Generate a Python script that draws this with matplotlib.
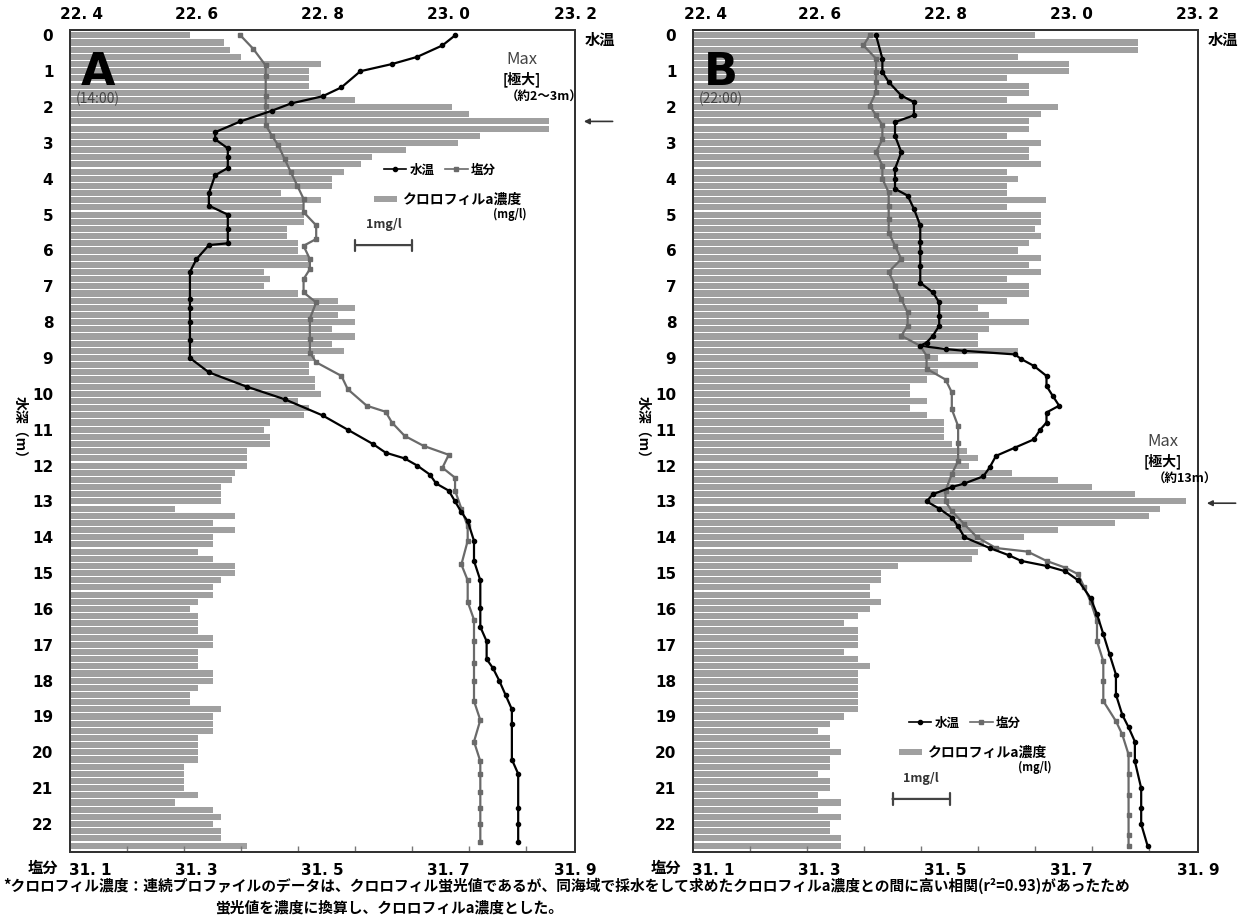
import numpy as np
import matplotlib
matplotlib.use('Agg')
import matplotlib.pyplot as plt
from matplotlib.lines import Line2D
from matplotlib.patches import Patch
from matplotlib.transforms import ScaledTranslation

plt.rcParams['font.family'] = ['Noto Sans CJK JP', 'DejaVu Sans']

W, H = 1251, 922

# 水深 (m) — chlorophyll samples every 0.2 m
depth = np.round(np.arange(0, 22.61, 0.2), 1)

# クロロフィルa濃度 (mg/l)
chl_a = [2.1, 2.7, 2.8, 3.0, 4.4, 4.2, 4.2, 4.2, 4.4, 5.0,
         6.7, 7.0, 8.4, 8.4, 7.2, 6.8, 5.9, 5.3, 5.1, 4.8,
         4.6, 4.6, 3.7, 4.4, 4.1, 4.1, 4.1, 3.8, 3.8, 4.0,
         4.0, 4.2, 4.2, 3.4, 3.5, 3.4, 4.0, 4.7, 5.0, 4.7,
         5.0, 4.6, 5.0, 4.6, 4.8, 4.3, 4.2, 4.2, 4.3, 4.3,
         4.4, 4.0, 4.2, 4.1, 3.5, 3.4, 3.5, 3.5, 3.1, 3.1,
         3.1, 2.9, 2.85, 2.65, 2.65, 2.65, 1.85, 2.9, 2.5, 2.9,
         2.5, 2.5, 2.25, 2.5, 2.9, 2.9, 2.65, 2.5, 2.5, 2.25,
         2.1, 2.25, 2.25, 2.25, 2.5, 2.5, 2.25, 2.25, 2.25, 2.5,
         2.5, 2.25, 2.1, 2.1, 2.65, 2.5, 2.5, 2.5, 2.25, 2.25,
         2.25, 2.25, 2.0, 2.0, 2.0, 2.0, 2.25, 1.85, 2.5, 2.65,
         2.5, 2.65, 2.65, 3.1]
chl_b = [6.0, 7.8, 7.8, 5.7, 6.6, 6.6, 5.5, 5.9, 5.9, 5.5,
         6.4, 6.1, 5.9, 5.9, 5.5, 6.1, 5.9, 5.9, 6.1, 5.5,
         5.7, 5.5, 5.5, 6.2, 5.5, 6.1, 6.1, 6.0, 6.1, 5.9,
         5.7, 6.1, 5.9, 6.1, 5.5, 5.9, 5.9, 5.5, 5.0, 5.2,
         5.9, 5.2, 5.0, 5.0, 5.7, 4.3, 5.0, 4.3, 4.1, 3.8,
         3.8, 4.1, 3.8, 4.1, 4.4, 4.4, 4.4, 4.55, 4.8, 5.0,
         4.85, 5.6, 6.4, 7.0, 7.75, 8.65, 8.2, 8.0, 7.4, 6.4,
         5.8, 5.1, 5.0, 4.9, 3.6, 3.3, 3.3, 3.1, 3.1, 3.3,
         3.1, 2.9, 2.65, 2.9, 2.9, 2.9, 2.65, 2.9, 3.1, 2.9,
         2.9, 2.9, 2.9, 2.9, 2.9, 2.65, 2.4, 2.2, 2.4, 2.4,
         2.6, 2.4, 2.4, 2.2, 2.4, 2.4, 2.2, 2.6, 2.2, 2.6,
         2.4, 2.4, 2.6, 2.6]

# 水温 (℃), A = 14:00
temp_a_depth = [0.0, 0.28, 0.6, 0.8, 1.0, 1.45, 1.7, 1.9, 2.1, 2.4,
                2.7, 2.9, 3.15, 3.4, 3.7, 3.9, 4.4, 4.75, 5.0, 5.4,
                5.8, 5.85, 6.25, 6.6, 7.35, 7.6, 8.0, 8.5, 9.0, 9.4,
                9.8, 10.15, 10.6, 11.0, 11.4, 11.64, 11.8, 12.0, 12.25, 12.5,
                12.7, 13.0, 13.3, 13.55, 14.1, 14.66, 15.2, 15.97, 16.5, 16.9,
                17.4, 17.65, 18.0, 18.4, 18.8, 19.2, 20.2, 20.6, 21.56, 22.0,
                22.5]
temp_a = [23.01, 22.99, 22.95, 22.91, 22.86, 22.83, 22.80, 22.75, 22.72, 22.67,
          22.63, 22.63, 22.65, 22.65, 22.65, 22.63, 22.62, 22.62, 22.65, 22.65,
          22.65, 22.62, 22.60, 22.59, 22.59, 22.59, 22.59, 22.59, 22.59, 22.62,
          22.68, 22.74, 22.80, 22.84, 22.88, 22.90, 22.93, 22.95, 22.97, 22.98,
          23.00, 23.01, 23.02, 23.03, 23.04, 23.04, 23.05, 23.05, 23.05, 23.06,
          23.06, 23.07, 23.08, 23.09, 23.10, 23.10, 23.10, 23.11, 23.11, 23.11,
          23.11]

# 塩分, A
sal_a_depth = [0.0, 0.37, 0.84, 1.12, 1.68, 1.96, 2.5, 2.8, 3.07, 3.45,
               3.82, 4.19, 4.56, 4.93, 5.3, 5.68, 5.87, 6.24, 6.52, 6.8,
               7.17, 7.45, 7.9, 8.47, 8.85, 9.12, 9.5, 9.87, 10.33, 10.5,
               10.8, 11.17, 11.45, 11.7, 12.06, 12.34, 12.7, 13.2, 13.7, 14.1,
               14.76, 15.2, 15.8, 16.3, 16.9, 17.5, 18.0, 18.57, 19.1, 19.7,
               20.25, 20.6, 21.1, 21.55, 22.0, 22.5]
sal_a = [31.37, 31.39, 31.41, 31.41, 31.41, 31.41, 31.41, 31.42, 31.43, 31.44,
         31.45, 31.46, 31.47, 31.47, 31.49, 31.49, 31.47, 31.48, 31.48, 31.47,
         31.47, 31.49, 31.48, 31.48, 31.48, 31.49, 31.53, 31.54, 31.57, 31.60,
         31.61, 31.63, 31.66, 31.70, 31.69, 31.71, 31.71, 31.72, 31.73, 31.73,
         31.72, 31.73, 31.73, 31.74, 31.74, 31.74, 31.74, 31.74, 31.75, 31.74,
         31.75, 31.75, 31.75, 31.75, 31.75, 31.75]

# 水温, B = 22:00
temp_b_depth = [0.0, 0.65, 1.02, 1.3, 1.68, 1.86, 2.23, 2.42, 2.8, 3.26,
                3.72, 4.0, 4.28, 4.47, 4.84, 5.3, 5.77, 6.05, 6.42, 6.9,
                7.17, 7.45, 7.82, 8.1, 8.38, 8.57, 8.66, 8.75, 8.8, 8.9,
                9.03, 9.22, 9.5, 9.78, 10.06, 10.33, 10.52, 10.8, 11.0, 11.27,
                11.5, 11.73, 12.05, 12.3, 12.5, 12.6, 12.8, 13.0, 13.2, 13.45,
                13.7, 14.0, 14.3, 14.5, 14.66, 14.8, 14.95, 15.2, 15.7, 16.15,
                16.7, 17.27, 17.83, 18.39, 18.95, 19.3, 19.7, 20.25, 21.0, 21.55,
                22.0, 22.6]
temp_b = [22.69, 22.70, 22.70, 22.71, 22.73, 22.75, 22.75, 22.72, 22.72, 22.73,
          22.72, 22.72, 22.72, 22.74, 22.75, 22.76, 22.76, 22.76, 22.76, 22.76,
          22.78, 22.79, 22.79, 22.79, 22.78, 22.77, 22.76, 22.80, 22.83, 22.91,
          22.92, 22.94, 22.96, 22.96, 22.97, 22.98, 22.96, 22.96, 22.95, 22.94,
          22.91, 22.88, 22.87, 22.86, 22.83, 22.81, 22.78, 22.77, 22.79, 22.81,
          22.82, 22.83, 22.87, 22.90, 22.92, 22.96, 22.99, 23.01, 23.03, 23.04,
          23.05, 23.06, 23.07, 23.07, 23.08, 23.09, 23.10, 23.10, 23.11, 23.11,
          23.11, 23.12]

# 塩分, B
sal_b_depth = [0.0, 0.28, 0.65, 1.02, 1.3, 1.58, 1.96, 2.23, 2.5, 2.9,
               3.26, 3.63, 4.0, 4.38, 4.75, 5.12, 5.5, 5.87, 6.24, 6.6,
               6.98, 7.36, 7.73, 8.1, 8.38, 8.66, 8.94, 9.3, 9.6, 9.96,
               10.43, 10.9, 11.36, 11.87, 12.24, 12.7, 13.0, 13.27, 13.64, 14.0,
               14.3, 14.4, 14.66, 14.85, 15.03, 15.4, 15.8, 16.34, 16.9, 17.46,
               18.0, 18.57, 19.13, 19.5, 20.06, 20.6, 21.2, 21.74, 22.3, 22.6]
sal_b = [31.38, 31.37, 31.39, 31.39, 31.39, 31.39, 31.38, 31.39, 31.40, 31.40,
         31.39, 31.40, 31.40, 31.41, 31.41, 31.41, 31.41, 31.42, 31.43, 31.41,
         31.42, 31.43, 31.44, 31.44, 31.43, 31.46, 31.47, 31.47, 31.50, 31.51,
         31.51, 31.52, 31.52, 31.52, 31.51, 31.50, 31.50, 31.51, 31.53, 31.55,
         31.58, 31.63, 31.66, 31.69, 31.71, 31.72, 31.73, 31.74, 31.74, 31.75,
         31.75, 31.75, 31.77, 31.78, 31.79, 31.79, 31.79, 31.79, 31.79, 31.79]

temp_ticks = [22.4, 22.6, 22.8, 23.0, 23.2]
temp_labels = ['22. 4', '22. 6', '22. 8', '23. 0', '23. 2']
sal_ticks = [31.1, 31.3, 31.5, 31.7, 31.9]
sal_labels = ['31. 1', '31. 3', '31. 5', '31. 7', '31. 9']

BAR = '#a0a0a0'
GRAY_LINE = '#6a6a6a'
CHL_MAX = 505 / 57.0   # 1 mg/l = 57 px on a 505 px wide panel

fig = plt.figure(figsize=(W / 100, H / 100), dpi=100)


def fx(px):
    return px / W


def fy(py):
    return 1 - py / H


def panel(left, chl, td, tv, sd, sv, letter, time_lbl, max_depth,
          max_txt, max_xy, leg_y, bar_pos):
    axc = fig.add_axes([fx(left), fy(852), fx(505), 822 / H])
    axc.barh(depth, chl, height=0.17, color=BAR, edgecolor='none')
    axc.set_xlim(0, CHL_MAX)
    axc.set_ylim(22.78, -0.15)
    axc.set_xticks(np.arange(1, 9))
    axc.tick_params(axis='x', direction='in', length=4, width=1,
                    labelbottom=False, colors='#777777')
    axc.set_yticks(range(23))
    axc.set_yticklabels([str(i) for i in range(23)], fontsize=11,
                        fontweight='bold', family='DejaVu Sans')
    axc.tick_params(axis='y', length=0, pad=12)

    axs = axc.twiny()
    axs.plot(sv, sd, color=GRAY_LINE, marker='s', ms=3, lw=1.6)
    axs.set_xlim(31.1, 31.9)
    axs.xaxis.tick_bottom()
    axs.set_xticks(sal_ticks)
    axs.set_xticklabels(sal_labels, fontsize=11, fontweight='bold',
                        family='DejaVu Sans')
    axs.tick_params(axis='x', length=0, pad=8)
    # first salinity label sits a little right of the frame edge
    lab0 = axs.get_xticklabels()[0]
    lab0.set_transform(lab0.get_transform() +
                       ScaledTranslation(20 / 100, 0, fig.dpi_scale_trans))

    axt = axc.twiny()
    axt.plot(tv, td, color='black', marker='o', ms=3, lw=1.6)
    axt.set_xlim(22.4, 23.2)
    axt.set_xticks(temp_ticks)
    axt.set_xticklabels(temp_labels, fontsize=11, fontweight='bold',
                        family='DejaVu Sans')
    axt.tick_params(axis='x', length=0, pad=6)
    lab0 = axt.get_xticklabels()[0]
    lab0.set_transform(lab0.get_transform() +
                       ScaledTranslation(12 / 100, 0, fig.dpi_scale_trans))

    for a in (axc, axs, axt):
        for s in a.spines.values():
            s.set_linewidth(1.4)
            s.set_color('#333333')

    # panel letter and time
    axc.text(0.022, 0.975, letter, transform=axc.transAxes, fontsize=32,
             fontweight='bold', family='DejaVu Sans', va='top', ha='left')
    axc.text(0.012, 0.925, time_lbl, transform=axc.transAxes, fontsize=10,
             va='top', ha='left', color='#444444')

    # axis captions
    fig.text(fx(left + 530), fy(40), '水温', fontsize=11, ha='center',
             va='center', fontweight='bold')
    fig.text(fx(left - 12), fy(868), '塩分', fontsize=11, ha='right',
             va='center', fontweight='bold')
    fig.text(fx(left - 50), fy(430), '水深（m）', fontsize=10,
             rotation=270, ha='center', va='center', fontweight='bold')

    # maximum annotation
    mx, my = max_xy
    fig.text(fx(mx), fy(my), 'Max', fontsize=12, ha='center', va='center',
             color='#444444')
    fig.text(fx(mx), fy(my + 19), '[極大]', fontsize=10, ha='center',
             va='center', fontweight='bold')
    fig.text(fx(mx + 22), fy(my + 37), max_txt, fontsize=9, ha='center',
             va='center', fontweight='bold')
    axc.annotate('', xy=(1.012, max_depth), xytext=(1.08, max_depth),
                 xycoords=('axes fraction', 'data'),
                 textcoords=('axes fraction', 'data'),
                 arrowprops=dict(arrowstyle='-|>', color='#333333', lw=1.2,
                                 mutation_scale=8))

    # legend
    lx, ly = leg_y
    h1 = Line2D([], [], color='black', marker='o', ms=3, lw=1.2)
    h2 = Line2D([], [], color=GRAY_LINE, marker='s', ms=3, lw=1.2)
    lg1 = axc.legend([h1, h2], ['水温', '塩分'], ncol=2, frameon=False,
                     loc='center', bbox_to_anchor=(fx(lx), fy(ly)),
                     bbox_transform=fig.transFigure,
                     handlelength=1.8, handletextpad=0.3, columnspacing=0.8,
                     prop={'weight': 'bold', 'size': 9})
    axc.add_artist(lg1)
    h3 = Patch(facecolor=BAR, edgecolor='none')
    axc.legend([h3], ['クロロフィルa濃度'], frameon=False, loc='center',
               bbox_to_anchor=(fx(lx + 8), fy(ly + 30)),
               bbox_transform=fig.transFigure, handlelength=1.6,
               handleheight=0.35, handletextpad=0.4,
               prop={'weight': 'bold', 'size': 10})
    fig.text(fx(lx + 70), fy(ly + 44), '(mg/l)', fontsize=8, ha='center',
             va='center', fontweight='bold')

    # 1 mg/l scale bar
    bx, bd = bar_pos
    axc.annotate('', xy=(bx + 1, bd), xytext=(bx, bd),
                 arrowprops=dict(arrowstyle='|-|', color='#444444', lw=1.6,
                                 mutation_scale=4, shrinkA=0, shrinkB=0))
    axc.text(bx + 0.5, bd - 0.4, '1mg/l', fontsize=9, ha='center',
             va='bottom', fontweight='bold', color='#333333')


panel(70, chl_a, temp_a_depth, temp_a, sal_a_depth, sal_a, 'A', '(14:00)',
      2.4, '（約2～3m）', (522, 60), (440, 170), (5.0, 5.85))
panel(693, chl_b, temp_b_depth, temp_b, sal_b_depth, sal_b, 'B', '(22:00)',
      13.05, '（約13m）', (1163, 442), (965, 723), (3.5, 21.3))

fig.text(fx(3), fy(886),
         '*クロロフィル濃度：連続プロファイルのデータは、クロロフィル蛍光値であるが、'
         '同海域で採水をして求めたクロロフィルa濃度との間に高い相関(r²=0.93)があったため',
         fontsize=10.6, ha='left', va='center', fontweight='bold')
fig.text(fx(215), fy(907), '蛍光値を濃度に換算し、クロロフィルa濃度とした。',
         fontsize=10.6, ha='left', va='center', fontweight='bold')

fig.savefig('out.png', dpi=100)
